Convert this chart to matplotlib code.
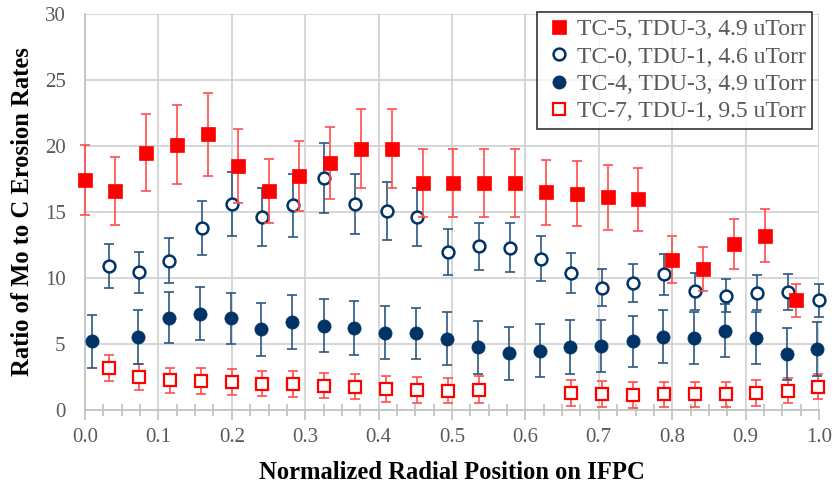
import numpy as np
import matplotlib
matplotlib.use("Agg")
import matplotlib.pyplot as plt
from matplotlib.ticker import MultipleLocator, FormatStrFormatter

plt.rcParams['font.family'] = ['Liberation Serif', 'DejaVu Serif']

# TC-5, TDU-3, 4.9 uTorr (filled red squares)
x5 = [0.0, 0.041, 0.083, 0.125, 0.167, 0.209, 0.25, 0.292, 0.334, 0.376, 0.418, 0.46,
      0.502, 0.544, 0.586, 0.628, 0.67, 0.712, 0.754, 0.8, 0.842, 0.884, 0.926, 0.968]
y5 = [17.4, 16.6, 19.5, 20.1, 20.9, 18.5, 16.6, 17.7, 18.7, 19.8, 19.8, 17.2,
      17.2, 17.2, 17.2, 16.5, 16.4, 16.1, 15.95, 11.4, 10.7, 12.6, 13.2, 8.3]
e5 = [2.65, 2.55, 2.9, 3.0, 3.15, 2.8, 2.45, 2.65, 2.75, 3.0, 3.0, 2.6,
      2.6, 2.6, 2.6, 2.45, 2.45, 2.45, 2.4, 1.75, 1.65, 1.9, 2.0, 1.25]

# TC-0, TDU-1, 4.6 uTorr (open navy circles)
x0 = [0.033, 0.074, 0.114, 0.159, 0.2, 0.241, 0.284, 0.326, 0.368, 0.411, 0.452, 0.495,
      0.537, 0.579, 0.621, 0.662, 0.704, 0.746, 0.789, 0.831, 0.873, 0.915, 0.958, 1.0]
y0 = [10.9, 10.45, 11.3, 13.8, 15.6, 14.6, 15.5, 17.6, 15.6, 15.1, 14.6, 12.0,
      12.4, 12.3, 11.45, 10.4, 9.25, 9.6, 10.3, 9.0, 8.65, 8.9, 8.95, 8.3]
e0 = [1.65, 1.55, 1.7, 2.05, 2.4, 2.2, 2.4, 2.65, 2.3, 2.2, 2.2, 1.75,
      1.8, 1.85, 1.7, 1.5, 1.4, 1.45, 1.55, 1.4, 1.25, 1.3, 1.35, 1.25]

# TC-4, TDU-3, 4.9 uTorr (filled navy circles)
x4 = [0.01, 0.072, 0.114, 0.157, 0.199, 0.24, 0.282, 0.325, 0.366, 0.409, 0.451, 0.493,
      0.535, 0.578, 0.62, 0.661, 0.703, 0.747, 0.788, 0.83, 0.872, 0.914, 0.956, 0.997]
y4 = [5.2, 5.55, 7.0, 7.3, 6.95, 6.1, 6.7, 6.4, 6.2, 5.85, 5.8, 5.4,
      4.75, 4.3, 4.5, 4.8, 4.85, 5.2, 5.55, 5.45, 6.0, 5.45, 4.25, 4.6]
e4 = [2.0, 2.05, 1.95, 2.0, 1.95, 2.0, 2.05, 2.0, 2.05, 2.0, 1.95, 2.0,
      2.0, 2.0, 2.0, 2.05, 2.0, 1.95, 2.0, 2.0, 2.0, 1.95, 2.0, 2.05]

# TC-7, TDU-1, 9.5 uTorr (open red squares)
x7 = [0.033, 0.074, 0.116, 0.158, 0.2, 0.241, 0.284, 0.326, 0.368, 0.41, 0.452, 0.495,
      0.537, 0.662, 0.704, 0.746, 0.789, 0.831, 0.873, 0.914, 0.958, 0.999]
y7 = [3.2, 2.5, 2.25, 2.2, 2.1, 2.0, 1.95, 1.85, 1.75, 1.6, 1.5, 1.45,
      1.55, 1.3, 1.2, 1.15, 1.2, 1.2, 1.2, 1.3, 1.45, 1.75]
e7 = [1.0, 1.0, 0.95, 0.95, 1.0, 0.95, 1.0, 0.95, 0.95, 1.0, 1.0, 0.95,
      1.0, 1.0, 1.0, 1.0, 0.95, 0.95, 0.95, 1.0, 0.95, 0.95]

labels = ['TC-5, TDU-3, 4.9 uTorr', 'TC-0, TDU-1, 4.6 uTorr',
          'TC-4, TDU-3, 4.9 uTorr', 'TC-7, TDU-1, 9.5 uTorr']

red = '#FF0000'
navy = '#003366'

fig = plt.figure(figsize=(8.35, 4.84), dpi=100)
ax = fig.add_axes([85 / 835, 74 / 484, 734 / 835, 396 / 484])

def draw(x, y, e, marker, face, edge, ecol, ms, mew, label, z):
    _, caps, bars = ax.errorbar(x, y, yerr=e, fmt='none', ecolor=ecol, elinewidth=1.2,
                                capsize=3.8, capthick=1.2, zorder=z)
    for a in list(caps) + list(bars):
        a.set_clip_on(False)
    ax.plot(x, y, linestyle='none', marker=marker, markersize=ms,
            markerfacecolor=face, markeredgecolor=edge, markeredgewidth=mew,
            label=label, zorder=z + 0.5, clip_on=False)

draw(x5, y5, e5, 's', red, red, '#FF4D4D', 10, 0.5, labels[0], 5)
draw(x0, y0, e0, 'o', 'white', navy, '#2B5783', 8.5, 1.8, labels[1], 4)
draw(x4, y4, e4, 'o', navy, navy, '#2B5783', 9.5, 0.5, labels[2], 3)
draw(x7, y7, e7, 's', 'white', red, '#FF4D4D', 8.5, 1.6, labels[3], 2)

ax.set_xlim(0, 1.0)
ax.set_ylim(0, 30)
ax.xaxis.set_major_locator(MultipleLocator(0.1))
ax.xaxis.set_minor_locator(MultipleLocator(0.025))
ax.xaxis.set_major_formatter(FormatStrFormatter('%.1f'))
ax.yaxis.set_major_locator(MultipleLocator(5))

ax.grid(True, which='major', color='#D0D0D0', linewidth=1.2)
ax.set_axisbelow(True)
for s in ['top', 'right']:
    ax.spines[s].set_visible(False)
for s in ['left', 'bottom']:
    ax.spines[s].set_color('#BFBFBF')
    ax.spines[s].set_linewidth(1.2)

ax.tick_params(axis='x', which='major', direction='out', length=7, width=1.2,
               color='#BFBFBF', labelsize=15, labelcolor='#595959', pad=6)
ax.tick_params(axis='x', which='minor', direction='inout', length=8, width=1.2,
               color='#BFBFBF')
ax.tick_params(axis='y', which='major', length=0, labelsize=15,
               labelcolor='#595959', pad=14)

ax.set_xlabel('Normalized Radial Position on IFPC', fontsize=17.7,
              fontweight='bold', labelpad=10)
ax.set_ylabel('Ratio of Mo to C Erosion Rates', fontsize=17.7,
              fontweight='bold', labelpad=8)

leg = ax.legend(loc='upper right', bbox_to_anchor=(812 / 835, 1 - 12 / 484),
                bbox_transform=fig.transFigure, borderaxespad=0,
                fontsize=17, frameon=True, fancybox=False, handletextpad=0.1,
                handlelength=1.3, labelspacing=0.25, borderpad=0.28)
leg.get_frame().set_edgecolor('black')
leg.get_frame().set_linewidth(1.2)
for t in leg.get_texts():
    t.set_color('#595959')

fig.savefig('out.png', dpi=100)
